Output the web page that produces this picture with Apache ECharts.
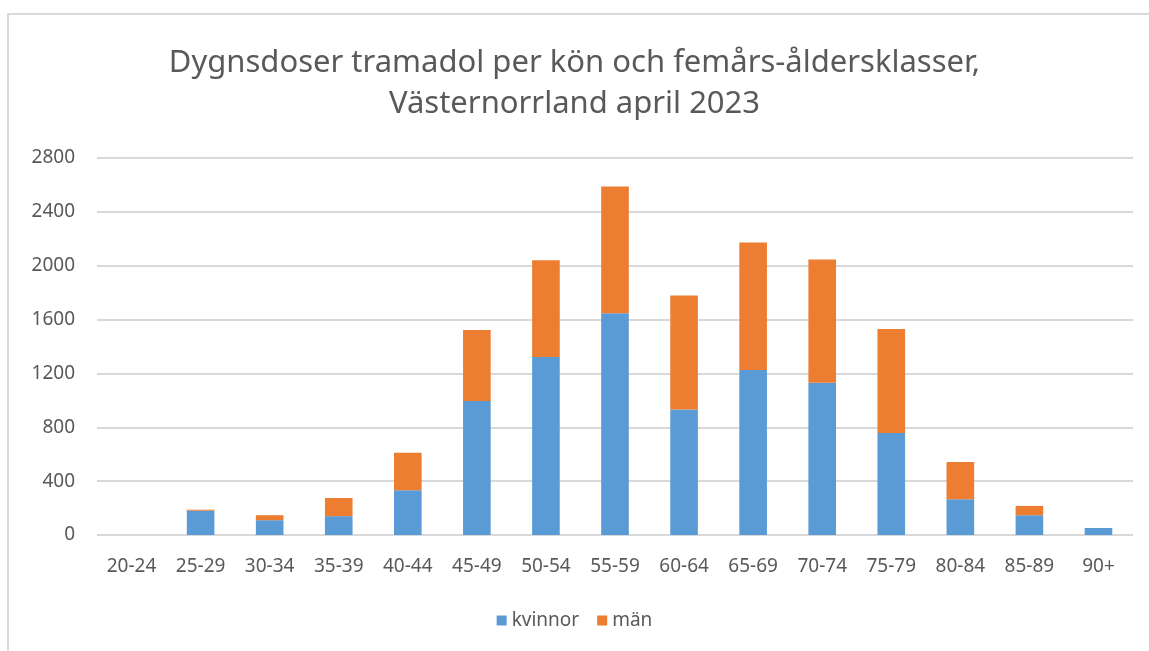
<!DOCTYPE html>
<html><head><meta charset="utf-8">
<script src="https://cdn.jsdelivr.net/npm/echarts@6/dist/echarts.min.js"></script>
<style>
html,body{margin:0;padding:0;background:#fff;overflow:hidden;}
#frame{position:absolute;left:7px;top:13px;width:1160px;height:660px;border:2px solid #d9d9d9;box-sizing:border-box;}
#c{position:absolute;left:0;top:0;width:1149px;height:651px;}
</style></head>
<body>
<div id="frame"></div>
<div id="c"></div>
<script>
const categories = ['20-24','25-29','30-34','35-39','40-44','45-49','50-54','55-59','60-64','65-69','70-74','75-79','80-84','85-89','90+'];
const kvinnor = [0,180,110,140,332,996,1322,1647,932,1226,1130,758,266,147,52];
const man = [0,8,37,135,278,527,718,942,846,946,916,772,276,69,0];
const yTicks = [0,400,800,1200,1600,2000,2400,2800];
const titleText = 'Dygnsdoser tramadol per kön och femårs-åldersklasser,\nVästernorrland april 2023';

const chart = echarts.init(document.getElementById('c'), null, {renderer:'canvas'});
const font = '"Noto Sans", "Open Sans", sans-serif';
chart.setOption({
  animation:false,
  backgroundColor:'transparent',
  title:{text:titleText,left:'center',top:38,textStyle:{fontFamily:font,fontSize:31,fontWeight:'normal',color:'#595959',lineHeight:41}},
  grid:{left:97,right:16,top:158,bottom:116,containLabel:false},
  legend:{top:606,left:'center',itemWidth:10,itemHeight:10,itemGap:18,icon:'rect',
    textStyle:{fontFamily:font,fontSize:19,color:'#595959'},data:['kvinnor','män']},
  xAxis:{type:'category',data:categories,
    axisLine:{show:false},axisTick:{show:false},
    axisLabel:{fontFamily:font,fontSize:19,color:'#595959',margin:22}},
  yAxis:{type:'value',min:0,max:2800,interval:400,
    axisLine:{show:false},axisTick:{show:false},
    axisLabel:{fontFamily:font,fontSize:19,color:'#595959',margin:22,
      formatter:v=>yTicks.includes(v)?String(v):''},
    splitLine:{lineStyle:{color:'#d9d9d9',width:2}}},
  series:[
    {name:'kvinnor',type:'bar',stack:'s',data:kvinnor,barWidth:'40%',itemStyle:{color:'#5B9BD5'}},
    {name:'män',type:'bar',stack:'s',data:man,barWidth:'40%',itemStyle:{color:'#ED7D31'}}
  ]
});
</script>
</body></html>
